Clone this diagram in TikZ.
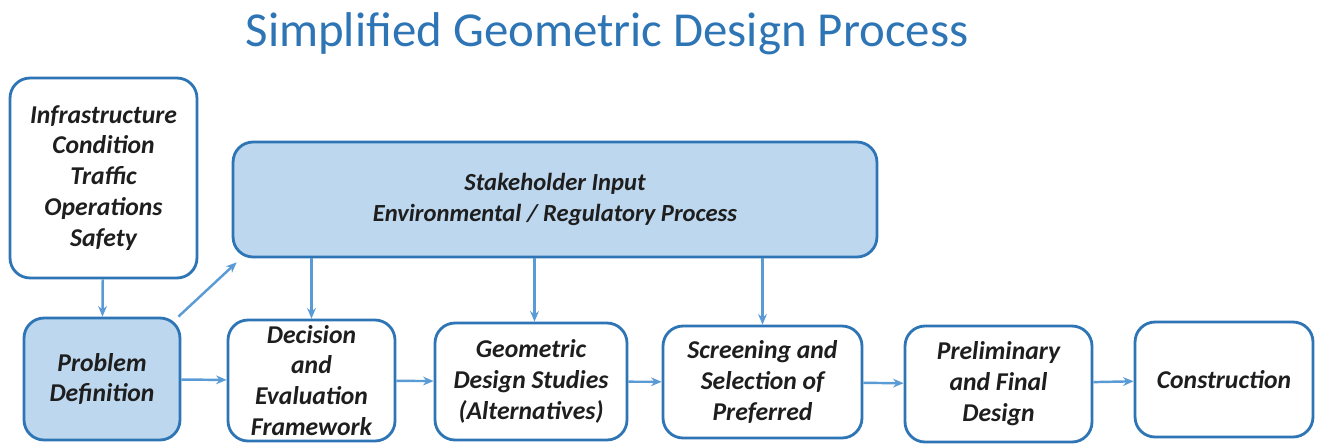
\documentclass[tikz,border=0pt]{standalone}
\usepackage{fontspec}
\setmainfont{Carlito}
\usepackage{tikz}
\usetikzlibrary{arrows.meta,positioning,calc}
\definecolor{titleblue}{RGB}{46,117,182}
\definecolor{edgeblue}{RGB}{46,117,182}
\definecolor{lineblue}{RGB}{91,155,213}
\definecolor{paleblue}{RGB}{189,215,238}
\definecolor{ink}{RGB}{30,30,30}

\begin{document}
\begin{tikzpicture}[x=0.02cm,y=-0.02cm,
	box/.style={draw=edgeblue,line width=1.6pt,rounded corners=0.4cm,fill=white,
		align=center,inner sep=0pt,text=ink,
		font=\fontsize{14.6}{17.6}\selectfont\bfseries\itshape},
	bluebox/.style={box,fill=paleblue},
	flow/.style={draw=lineblue,line width=1.4pt,-{Stealth[length=6pt,width=5pt]}}]
	\useasboundingbox (0,0) rectangle (1317,443);
	% Titel
		\node (title) at (607,34) [text=titleblue,font=\fontsize{27.8}{30}\selectfont] {Simplified Geometric Design Process};
	% Knoten
		\node (infra) at (103.5,178) [box,minimum width=3.74cm,minimum height=4cm] {Infrastructure\\Condition\\Traffic\\Operations\\Safety};
		\node (problem) at (102,379) [bluebox,minimum width=3.12cm,minimum height=2.44cm] {Problem\\Definition};
		\node (stake) at (555,199.5) [bluebox,minimum width=12.88cm,minimum height=2.3cm,font=\fontsize{14}{17.6}\selectfont\bfseries\itshape] {Stakeholder Input\\Environmental / Regulatory Process};
		\node (decision) at (311.5,380.5) [box,minimum width=3.34cm,minimum height=2.42cm] {Decision\\and\\Evaluation\\Framework};
		\node (geometric) at (531,381.5) [box,minimum width=3.84cm,minimum height=2.34cm] {Geometric\\Design Studies\\(Alternatives)};
		\node (screen) at (762.5,382) [box,minimum width=3.98cm,minimum height=2.24cm] {Screening and\\Selection of\\Preferred};
		\node (prelim) at (998.5,384) [box,minimum width=3.74cm,minimum height=2.32cm] {Preliminary\\and Final\\Design};
		\node (construct) at (1224,379.5) [box,minimum width=3.56cm,minimum height=2.3cm] {Construction};
	% Kanten
		\draw[flow] (infra) -- (problem);
		\draw[flow] ([shift={(-0.06cm,0)}]problem.north east) -- ([shift={(0.1cm,-0.08cm)}]stake.south west);
		\draw[flow] (problem) -- (decision);
		\draw[flow] (decision) -- (geometric);
		\draw[flow] (geometric) -- (screen);
		\draw[flow] (screen) -- (prelim);
		\draw[flow] (prelim) -- (construct);
		\draw[flow] (decision.north |- stake.south) -- (decision.north);
		\draw[flow] ([xshift=0.07cm]geometric.north |- stake.south) -- ([xshift=0.07cm]geometric.north);
		\draw[flow] (screen.north |- stake.south) -- (screen.north);
	\end{tikzpicture}
\end{document}
